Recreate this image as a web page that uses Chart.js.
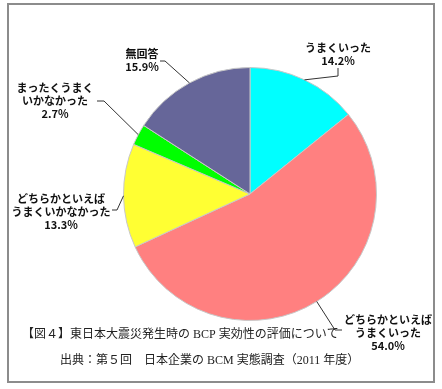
<!DOCTYPE html>
<html>
<head>
<meta charset="utf-8">
<script src="https://cdn.jsdelivr.net/npm/chart.js@4"></script>
<style>
  body { margin: 0; background: #fff; }
</style>
</head>
<body>
<canvas id="myChart" width="442" height="389"></canvas>
<script>
const categories = ['うまくいった', 'どちらかといえばうまくいった', 'どちらかといえばうまくいかなかった', 'まったくうまくいかなかった', '無回答'];
const percents = [14.2, 54.0, 13.3, 2.7, 15.9];
const sliceColors = ['#00FFFF', '#FF8080', '#FFFF33', '#00FF00', '#666699'];
const labelLines = [
  ['うまくいった'],
  ['どちらかといえば', 'うまくいった'],
  ['どちらかといえば', 'うまくいかなかった'],
  ['まったくうまく', 'いかなかった'],
  ['無回答']
];
const captionLines = [
  '【図４】東日本大震災発生時の BCP 実効性の評価について',
  '出典：第５回　日本企業の BCM 実態調査（2011 年度）'
];

// label placement: text centre x, first line y, leader elbow, leader end
const labelLayout = [
  { x: 338, y: 48, elbow: [338, 76], end: [338, 68] },
  { x: 388, y: 320, elbow: [335, 330], end: [342, 330] },
  { x: 61, y: 199, elbow: [117, 210], end: [112, 210] },
  { x: 55, y: 88, elbow: [104, 101], end: [97, 101] },
  { x: 142, y: 54, elbow: [165, 61], end: [160, 61] }
];

const labelPlugin = {
  id: 'labels',
  beforeDraw(chart) {
    const ctx = chart.ctx;
    ctx.save();
    ctx.fillStyle = '#fff';
    ctx.fillRect(0, 0, chart.width, chart.height);
    ctx.restore();
  },
  afterDraw(chart) {
    const ctx = chart.ctx;
    const meta = chart.getDatasetMeta(0);
    ctx.save();
    meta.data.forEach((arc, i) => {
      const mid = (arc.startAngle + arc.endAngle) / 2;
      const px = arc.x + Math.cos(mid) * arc.outerRadius;
      const py = arc.y + Math.sin(mid) * arc.outerRadius;
      const lay = labelLayout[i];
      ctx.strokeStyle = '#333';
      ctx.lineWidth = 1;
      ctx.beginPath();
      ctx.moveTo(px, py);
      ctx.lineTo(lay.elbow[0], lay.elbow[1]);
      ctx.lineTo(lay.end[0], lay.end[1]);
      ctx.stroke();

      const lines = labelLines[i].concat([percents[i].toFixed(1) + '%']);
      ctx.fillStyle = '#111';
      ctx.textAlign = 'center';
      ctx.textBaseline = 'middle';
      lines.forEach((t, j) => {
        ctx.font = 'bold 11px "Noto Sans CJK JP", "Liberation Sans", sans-serif';
        ctx.fillText(t, lay.x, lay.y + j * 13);
      });
    });

    ctx.fillStyle = '#222';
    ctx.textAlign = 'left';
    ctx.textBaseline = 'middle';
    ctx.font = '12px "Liberation Serif", "Noto Sans CJK JP", serif';
    ctx.fillText(captionLines[0], 22, 335);
    ctx.fillText(captionLines[1], 60, 361);

    ctx.strokeStyle = '#8c8c8c';
    ctx.lineWidth = 2;
    ctx.strokeRect(8, 4, 426, 378);
    ctx.restore();
  }
};

const chart1 = document.getElementById('myChart').getContext('2d');

const myChart = new Chart(chart1, {
  type: 'pie',
  data: {
    labels: categories,
    datasets: [{
      data: percents,
      backgroundColor: sliceColors,
      borderColor: '#c8c8c8',
      borderWidth: 1
    }]
  },
  options: {
    responsive: false,
    animation: false,
    layout: {
      padding: { left: 123, right: 65, top: 67, bottom: 68 }
    },
    plugins: {
      legend: { display: false },
      tooltip: { enabled: false }
    }
  },
  plugins: [labelPlugin]
});
</script>
</body>
</html>
